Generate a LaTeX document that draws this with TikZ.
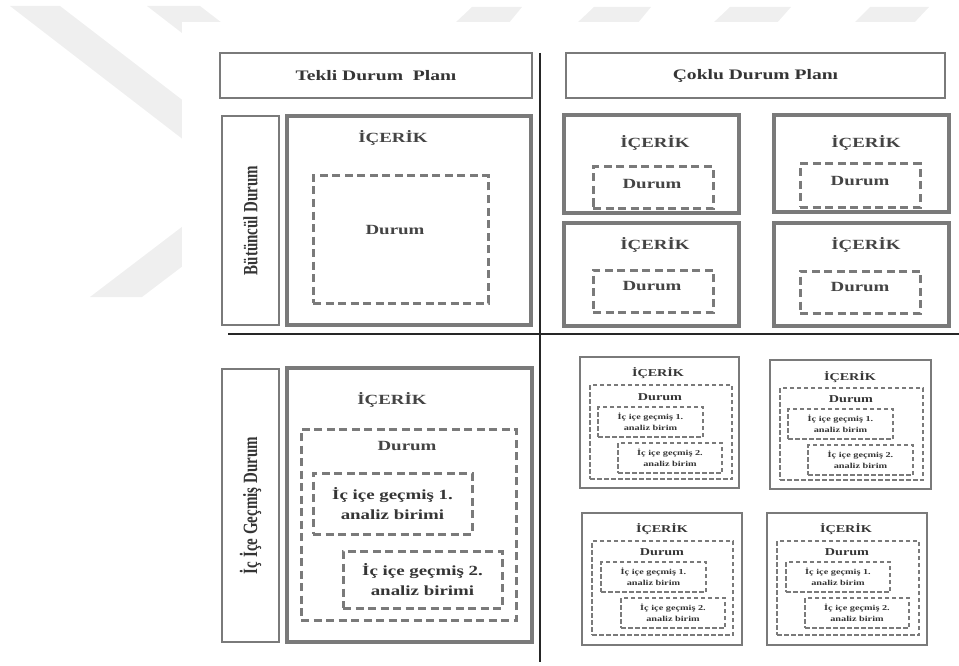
\documentclass[tikz,border=0pt]{standalone}
\usepackage{fontspec}
\setmainfont{Liberation Serif}
\usepackage{graphicx}
\usetikzlibrary{fit}
\definecolor{boxgray}{HTML}{7A7A7A}
\definecolor{txtgray}{HTML}{444444}
\definecolor{hdrgray}{HTML}{353535}
\definecolor{wmgray}{HTML}{EFEFEF}
\definecolor{linedark}{HTML}{262626}
\newcommand\stx[1]{\scalebox{1.35}[1]{#1}}
\newcommand\sty[1]{\scalebox{1}[1.35]{#1}}
\begin{document}
\begin{tikzpicture}[x=1pt,y=-1pt,
  hbox/.style={draw=boxgray, line width=2.2pt, inner sep=0pt},
  sbox/.style={draw=boxgray, line width=3.4pt, inner sep=0pt},
  dbox/.style={draw=boxgray, line width=3pt, dash pattern=on 8pt off 4.5pt, inner sep=0pt},
  ssbox/.style={draw=boxgray, line width=2.4pt, inner sep=0pt},
  sdbox/.style={draw=boxgray, line width=1.9pt, dash pattern=on 4.5pt off 2.5pt, inner sep=0pt},
  txt/.style={text=txtgray, font=\bfseries\fontsize{14}{15}\selectfont, inner sep=0pt, align=center},
  ltxt/.style={text=hdrgray, font=\bfseries\fontsize{14}{19.5}\selectfont, inner sep=0pt, align=center},
  htxt/.style={text=hdrgray, font=\bfseries\fontsize{14.5}{15}\selectfont, inner sep=0pt, align=center},
  stxt/.style={text=hdrgray, font=\bfseries\fontsize{10.5}{11}\selectfont, inner sep=0pt, align=center},
  ttxt/.style={text=hdrgray, font=\bfseries\fontsize{7.6}{11}\selectfont, inner sep=0pt, align=center},
  divider/.style={draw=linedark, line width=1.5pt}
]
\useasboundingbox (0,0) rectangle (959,666);
% watermark
\fill[wmgray] (10,6) -- (60,6) -- (250,152) -- (250,191) -- cycle;
\fill[wmgray] (147,6) -- (200,6) -- (300,83) -- (300,124) -- cycle;
\fill[wmgray] (90,297) -- (142,297) -- (250,215) -- (250,175) -- cycle;
\fill[wmgray] (454,24) -- (508,24) -- (522,7) -- (472,7) -- cycle;
\fill[wmgray] (576,24) -- (637,24) -- (651,7) -- (594,7) -- cycle;
\fill[wmgray] (712,24) -- (776,24) -- (791,7) -- (730,7) -- cycle;
\fill[wmgray] (853,24) -- (913,24) -- (929,7) -- (870,7) -- cycle;
\fill[white] (182,22) rectangle (959,666);

% dividers
\coordinate (vtop) at (540,53);
\coordinate (vbot) at (540,662);
\coordinate (hl) at (228,334);
\coordinate (hr) at (959,334);
\draw[divider] (vtop) -- (vbot);
\draw[divider] (hl) -- (hr);

% headers
\node[hbox, fit={(220,53) (532,98)}] (tekli) {};
\node[htxt] (tekliT) at (tekli.center) {\stx{Tekli Durum\ \ Planı}};
\node[hbox, fit={(566,53) (945,98)}] (coklu) {};
\node[htxt] (cokluT) at (coklu.center) {\stx{Çoklu Durum Planı}};

% side labels
\node[hbox, fit={(222,116) (279,325)}] (butun) {};
\node[htxt, rotate=90, font=\bfseries\fontsize{15}{16}\selectfont] (butunT) at (butun.center) {\sty{Bütüncül Durum}};
\node[hbox, fit={(222,369) (279,642)}] (icice) {};
\node[htxt, rotate=90, font=\bfseries\fontsize{15}{16}\selectfont] (iciceT) at (icice.center) {\sty{İç İçe Geçmiş Durum}};

% top-left quadrant
\node[sbox, fit={(287,116) (531,325)}] (q1) {};
\node[txt] (q1i) at (393,138) {\stx{İÇERİK}};
\node[dbox, fit={(313,176) (488,303)}] (q1d) {};
\node[txt] (q1dT) at (395,230) {\stx{Durum}};

% top-right quadrant
\node[sbox, fit={(564,115) (739,213)}] (a1) {};
\node[txt] (a1i) at (655,143) {\stx{İÇERİK}};
\node[dbox, fit={(593,167) (713,208)}] (a1d) {};
\node[txt] (a1dT) at (652,184) {\stx{Durum}};

\node[sbox, fit={(774,115) (949,212)}] (a2) {};
\node[txt] (a2i) at (866,143) {\stx{İÇERİK}};
\node[dbox, fit={(800,164) (920,207)}] (a2d) {};
\node[txt] (a2dT) at (860,181) {\stx{Durum}};

\node[sbox, fit={(564,223) (739,326)}] (a3) {};
\node[txt] (a3i) at (655,245) {\stx{İÇERİK}};
\node[dbox, fit={(593,270) (713,312)}] (a3d) {};
\node[txt] (a3dT) at (652,286) {\stx{Durum}};

\node[sbox, fit={(774,223) (949,326)}] (a4) {};
\node[txt] (a4i) at (866,245) {\stx{İÇERİK}};
\node[dbox, fit={(800,271) (920,313)}] (a4d) {};
\node[txt] (a4dT) at (860,287) {\stx{Durum}};

% bottom-left quadrant
\node[sbox, fit={(287,368) (532,642)}] (q3) {};
\node[txt] (q3i) at (392,400) {\stx{İÇERİK}};
\node[dbox, fit={(301,429) (516,620)}] (q3d) {};
\node[txt] (q3dT) at (407,446) {\stx{Durum}};
\node[dbox, fit={(313,473) (472,534)}] (q3n1) {};
\node[ltxt] (q3n1T) at (q3n1.center) {\stx{İç içe geçmiş 1.}\\\stx{analiz birimi}};
\node[dbox, fit={(343,551) (502,608)}] (q3n2) {};
\node[ltxt] (q3n2T) at (q3n2.center) {\stx{İç içe geçmiş 2.}\\\stx{analiz birimi}};

% bottom-right quadrant
\node[ssbox, fit={(580,357) (739,488)}] (b1) {};
\node[stxt] (b1i) at (658,373) {\stx{İÇERİK}};
\node[sdbox, fit={(590,385) (732,479)}] (b1d) {};
\node[stxt] (b1dT) at (660,397) {\stx{Durum}};
\node[sdbox, fit={(598,407) (703,437)}] (b1n1) {};
\node[ttxt] (b1n1T) at (b1n1.center) {\stx{İç içe geçmiş 1.}\\\stx{analiz birim}};
\node[sdbox, fit={(618,443) (722,473)}] (b1n2) {};
\node[ttxt] (b1n2T) at (b1n2.center) {\stx{İç içe geçmiş 2.}\\\stx{analiz birim}};

\node[ssbox, fit={(770,360) (931,489)}] (b2) {};
\node[stxt] (b2i) at (850,377) {\stx{İÇERİK}};
\node[sdbox, fit={(780,388) (923,480)}] (b2d) {};
\node[stxt] (b2dT) at (851,399) {\stx{Durum}};
\node[sdbox, fit={(788,409) (893,439)}] (b2n1) {};
\node[ttxt] (b2n1T) at (b2n1.center) {\stx{İç içe geçmiş 1.}\\\stx{analiz birim}};
\node[sdbox, fit={(808,445) (913,475)}] (b2n2) {};
\node[ttxt] (b2n2T) at (b2n2.center) {\stx{İç içe geçmiş 2.}\\\stx{analiz birim}};

\node[ssbox, fit={(582,513) (742,645)}] (b3) {};
\node[stxt] (b3i) at (662,529) {\stx{İÇERİK}};
\node[sdbox, fit={(592,541) (733,635)}] (b3d) {};
\node[stxt] (b3dT) at (662,552) {\stx{Durum}};
\node[sdbox, fit={(601,562) (706,592)}] (b3n1) {};
\node[ttxt] (b3n1T) at (b3n1.center) {\stx{İç içe geçmiş 1.}\\\stx{analiz birim}};
\node[sdbox, fit={(621,598) (725,628)}] (b3n2) {};
\node[ttxt] (b3n2T) at (b3n2.center) {\stx{İç içe geçmiş 2.}\\\stx{analiz birim}};

\node[ssbox, fit={(767,513) (927,645)}] (b4) {};
\node[stxt] (b4i) at (846,529) {\stx{İÇERİK}};
\node[sdbox, fit={(777,541) (919,635)}] (b4d) {};
\node[stxt] (b4dT) at (847,552) {\stx{Durum}};
\node[sdbox, fit={(786,562) (890,592)}] (b4n1) {};
\node[ttxt] (b4n1T) at (b4n1.center) {\stx{İç içe geçmiş 1.}\\\stx{analiz birim}};
\node[sdbox, fit={(805,598) (909,628)}] (b4n2) {};
\node[ttxt] (b4n2T) at (b4n2.center) {\stx{İç içe geçmiş 2.}\\\stx{analiz birim}};
\end{tikzpicture}
\end{document}
